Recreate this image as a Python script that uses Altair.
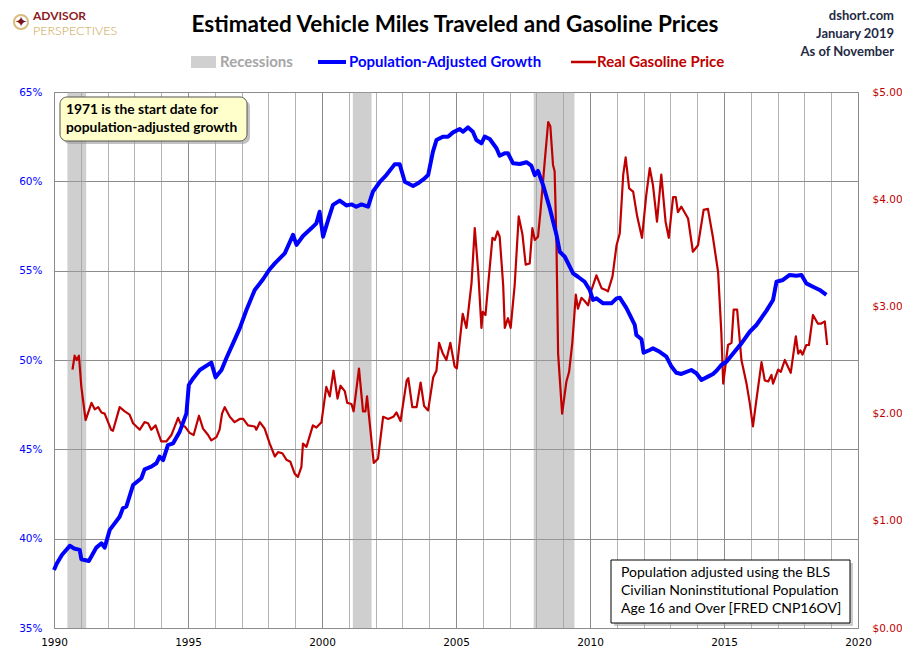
import altair as alt
import pandas as pd

# ---------------- data ----------------
blue_years = [1990.0, 1990.1, 1990.3, 1990.59, 1990.75, 1990.96, 1991.02, 1991.3, 1991.58, 1991.77,
              1991.89, 1992.08, 1992.45, 1992.57, 1992.7, 1992.95, 1993.26, 1993.38, 1993.63, 1993.82,
              1993.94, 1994.07, 1994.25, 1994.44, 1994.69, 1994.94, 1995.03, 1995.19, 1995.44, 1995.87,
              1996.03, 1996.25, 1996.43, 1996.68, 1996.93, 1997.18, 1997.49, 1997.8, 1998.05, 1998.24,
              1998.61, 1998.92, 1999.05, 1999.29, 1999.6, 1999.79, 1999.91, 2000.04, 2000.23, 2000.41,
              2000.66, 2000.91, 2001.1, 2001.28, 2001.47, 2001.72, 2001.9, 2002.15, 2002.4, 2002.71,
              2002.9, 2003.09, 2003.4, 2003.58, 2003.83, 2003.96, 2004.14, 2004.27, 2004.51, 2004.7,
              2004.89, 2005.14, 2005.26, 2005.45, 2005.63, 2005.76, 2005.95, 2006.07, 2006.26, 2006.51,
              2006.63, 2006.82, 2006.94, 2007.13, 2007.38, 2007.63, 2007.81, 2007.94, 2008.06, 2008.25,
              2008.5, 2008.75, 2008.87, 2009.06, 2009.37, 2009.55, 2009.8, 2009.99, 2010.11, 2010.24,
              2010.49, 2010.8, 2010.99, 2011.11, 2011.36, 2011.67, 2011.73, 2011.92, 2012.0, 2012.23,
              2012.35, 2012.6, 2012.85, 2013.04, 2013.22, 2013.41, 2013.78, 2013.97, 2014.16, 2014.4,
              2014.59, 2014.72, 2014.9, 2015.09, 2015.34, 2015.65, 2015.96, 2016.21, 2016.58, 2016.83,
              2016.96, 2017.2, 2017.45, 2017.7, 2017.89, 2018.07, 2018.32, 2018.57, 2018.82]
blue_pct = [38.25, 38.6, 39.1, 39.6, 39.45, 39.37, 38.85, 38.75, 39.5, 39.74,
            39.5, 40.49, 41.23, 41.7, 41.8, 43.0, 43.38, 43.88, 44.03, 44.22,
            44.59, 44.4, 45.24, 45.33, 45.99, 47.0, 48.6, 48.97, 49.44, 49.85,
            49.03, 49.44, 50.1, 50.93, 51.77, 52.8, 53.92, 54.52, 55.08, 55.41,
            55.97, 57.0, 56.44, 56.94, 57.37, 57.65, 58.3, 56.9, 57.84, 58.68,
            58.92, 58.65, 58.71, 58.58, 58.71, 58.58, 59.42, 59.95, 60.35, 60.95,
            60.95, 59.98, 59.74, 59.89, 60.17, 60.35, 61.66, 62.31, 62.5, 62.5,
            62.74, 62.93, 62.78, 63.02, 62.78, 62.31, 62.13, 62.5, 62.37, 61.85,
            61.43, 61.57, 61.57, 61.01, 60.97, 61.07, 60.88, 60.35, 60.58, 59.79,
            58.49, 57.0, 56.06, 55.78, 54.85, 54.66, 54.38, 53.92, 53.36, 53.45,
            53.17, 53.17, 53.45, 53.49, 52.9, 51.96, 51.4, 51.16, 50.41, 50.56,
            50.65, 50.46, 50.19, 49.63, 49.29, 49.22, 49.44, 49.26, 48.88, 49.07,
            49.22, 49.4, 49.72, 49.9, 50.37, 50.93, 51.58, 51.96, 52.75, 53.36,
            54.38, 54.48, 54.76, 54.72, 54.76, 54.29, 54.1, 53.92, 53.64]

red_years = [1990.69, 1990.77, 1990.85, 1990.93, 1991.02, 1991.18, 1991.4, 1991.52, 1991.65, 1991.77,
             1991.89, 1992.13, 1992.2, 1992.45, 1992.64, 1992.82, 1992.95, 1993.2, 1993.38, 1993.51,
             1993.63, 1993.79, 1994.0, 1994.19, 1994.38, 1994.63, 1994.75, 1994.88, 1995.06, 1995.21,
             1995.41, 1995.56, 1995.75, 1995.87, 1996.06, 1996.18, 1996.27, 1996.37, 1996.56, 1996.74,
             1996.93, 1997.06, 1997.24, 1997.49, 1997.55, 1997.68, 1997.86, 1998.05, 1998.24, 1998.36,
             1998.52, 1998.67, 1998.82, 1998.98, 1999.1, 1999.23, 1999.29, 1999.42, 1999.66, 1999.79,
             1999.98, 2000.16, 2000.29, 2000.43, 2000.58, 2000.69, 2000.85, 2000.94, 2001.1, 2001.18,
             2001.38, 2001.53, 2001.62, 2001.68, 2001.93, 2002.09, 2002.28, 2002.47, 2002.66, 2002.78,
             2002.93, 2003.16, 2003.22, 2003.37, 2003.53, 2003.68, 2003.81, 2003.96, 2004.15, 2004.27,
             2004.37, 2004.51, 2004.64, 2004.79, 2004.95, 2005.03, 2005.25, 2005.39, 2005.58, 2005.7,
             2005.83, 2005.95, 2006.0, 2006.1, 2006.2, 2006.36, 2006.45, 2006.55, 2006.63, 2006.76,
             2006.82, 2006.94, 2007.04, 2007.19, 2007.34, 2007.48, 2007.6, 2007.75, 2007.85, 2007.94,
             2008.06, 2008.15, 2008.31, 2008.44, 2008.52, 2008.62, 2008.68, 2008.75, 2008.81, 2008.96,
             2009.12, 2009.22, 2009.34, 2009.43, 2009.47, 2009.55, 2009.68, 2009.8, 2009.93, 2010.05,
             2010.24, 2010.43, 2010.61, 2010.67, 2010.84, 2010.99, 2011.11, 2011.24, 2011.33, 2011.46,
             2011.61, 2011.76, 2011.94, 2012.1, 2012.23, 2012.35, 2012.5, 2012.66, 2012.82, 2012.94,
             2013.1, 2013.2, 2013.28, 2013.41, 2013.66, 2013.84, 2014.03, 2014.24, 2014.4, 2014.59,
             2014.78, 2014.9, 2014.97, 2015.15, 2015.28, 2015.36, 2015.49, 2015.65, 2015.84, 2015.96,
             2016.08, 2016.21, 2016.4, 2016.52, 2016.65, 2016.77, 2016.83, 2017.02, 2017.12, 2017.27,
             2017.49, 2017.68, 2017.77, 2017.85, 2017.93, 2018.07, 2018.17, 2018.32, 2018.5, 2018.63,
             2018.76, 2018.85]
red_price = [2.41, 2.54, 2.50, 2.54, 2.25, 1.94, 2.10, 2.04, 2.06, 2.01,
             2.00, 1.85, 1.84, 2.06, 2.02, 1.99, 1.91, 1.85, 1.92, 1.91,
             1.85, 1.89, 1.74, 1.74, 1.80, 1.96, 1.89, 1.88, 1.82, 1.80,
             1.98, 1.86, 1.80, 1.75, 1.78, 1.85, 2.00, 2.06, 1.97, 1.92,
             1.95, 1.95, 1.89, 1.88, 1.85, 1.92, 1.86, 1.72, 1.60, 1.64,
             1.63, 1.57, 1.55, 1.44, 1.41, 1.50, 1.72, 1.69, 1.89, 1.87,
             1.92, 2.25, 2.16, 2.40, 2.14, 2.26, 2.21, 2.10, 2.09, 2.02,
             2.42, 2.02, 2.02, 2.16, 1.54, 1.58, 1.97, 1.95, 1.97, 2.01,
             1.93, 2.31, 2.33, 2.06, 2.06, 2.29, 2.07, 2.03, 2.34, 2.40,
             2.66, 2.56, 2.50, 2.66, 2.44, 2.42, 2.93, 2.80, 3.22, 3.73,
             3.32, 2.80, 2.95, 2.92, 3.20, 3.64, 3.62, 3.70, 3.65, 3.20,
             2.80, 2.89, 2.80, 3.20, 3.84, 3.67, 3.39, 3.40, 3.73, 3.62,
             3.65, 3.88, 4.35, 4.72, 4.68, 4.32, 4.26, 3.57, 2.56, 2.00,
             2.30, 2.39, 2.66, 2.97, 3.11, 2.98, 3.08, 3.05, 3.01, 3.15,
             3.29, 3.17, 3.15, 3.14, 3.28, 3.57, 3.68, 4.23, 4.39, 4.10,
             4.07, 3.84, 3.64, 4.04, 4.29, 4.13, 3.79, 4.23, 3.79, 3.64,
             4.02, 4.02, 3.88, 3.93, 3.82, 3.51, 3.57, 3.90, 3.91, 3.64,
             3.32, 2.76, 2.28, 2.64, 2.66, 2.97, 2.97, 2.50, 2.28, 2.10,
             1.88, 2.13, 2.48, 2.31, 2.30, 2.36, 2.28, 2.41, 2.39, 2.50,
             2.38, 2.72, 2.56, 2.59, 2.55, 2.64, 2.64, 2.92, 2.84, 2.84,
             2.86, 2.64]

rec_start = [1990.5, 2001.15, 2007.9]
rec_end = [1991.2, 2001.85, 2009.42]

x_ticks = list(range(1990, 2021))
pct_ticks = [35, 40, 45, 50, 55, 60, 65]
price_ticks = [0, 1, 2, 3, 4, 5]

title_text = "Estimated Vehicle Miles Traveled and Gasoline Prices"
note1 = ["1971  is the start date for", "population-adjusted growth"]
note2 = ["Population adjusted using the BLS", "Civilian Noninstitutional Population",
         "Age 16 and Over  [FRED CNP16OV]"]
top_right = ["dshort.com", "January 2019", "As of November"]

# ---------------- chart ----------------
W, H = 804, 536
OX, OY = 54, 92  # page position of plot origin

blue = pd.DataFrame({"year": blue_years, "pct": blue_pct})
red = pd.DataFrame({"year": red_years, "price": red_price})
rec = pd.DataFrame({"start": rec_start, "end": rec_end})

xscale = alt.Scale(domain=[1990, 2020], nice=False, zero=False)
AXF = "DejaVu Sans"


def x_axis():
    return alt.Axis(values=x_ticks, labelExpr="datum.value % 5 === 0 ? datum.label : ''",
                    format="d", grid=True,
                    gridColor={"condition": {"test": "datum.value % 5 === 0", "value": "#8c8c8c"},
                               "value": "#b4b4b4"},
                    ticks=False, domain=False, title=None, labelFont=AXF, labelFontSize=10.5,
                    labelColor="#000000", labelPadding=9, labelOverlap=False,
                    labelFlush=False, labelBound=False)


rec_layer = alt.Chart(rec).mark_rect(color="#a0a0a0", opacity=0.5).encode(
    x=alt.X("start:Q", scale=xscale, axis=x_axis()),
    x2="end:Q",
)

blue_layer = alt.Chart(blue).mark_line(color="#0000FF", strokeWidth=4, strokeJoin="round").encode(
    x=alt.X("year:Q", scale=xscale, axis=x_axis()),
    y=alt.Y("pct:Q", scale=alt.Scale(domain=[35, 65], nice=False, zero=False),
            axis=alt.Axis(orient="left", values=pct_ticks, labelExpr="datum.value + '%'",
                          grid=True, gridColor="#8c8c8c", ticks=False, domain=False, title=None,
                          labelFont=AXF, labelFontSize=10.5, labelColor="#0000FF",
                          labelPadding=12, labelFlush=False)),
)

red_layer = alt.Chart(red).mark_line(color="#C00000", strokeWidth=2.2, strokeJoin="round").encode(
    x=alt.X("year:Q", scale=xscale, axis=x_axis()),
    y=alt.Y("price:Q", scale=alt.Scale(domain=[0, 5], nice=False, zero=False),
            axis=alt.Axis(orient="right", values=price_ticks, format="$.2f", grid=False,
                          ticks=False, domain=False, title=None, labelFont=AXF,
                          labelFontSize=10.5, labelColor="#C00000", labelPadding=14,
                          labelFlush=False)),
)


def txt(t, px, py, **kw):
    return alt.Chart(pd.DataFrame({"t": [t]})).mark_text(**kw).encode(
        x=alt.value(px - OX), y=alt.value(py - OY), text="t:N")


def box(px1, py1, px2, py2, **kw):
    return alt.Chart(pd.DataFrame({"a": [0]})).mark_rect(**kw).encode(
        x=alt.value(px1 - OX), x2=alt.value(px2 - OX),
        y=alt.value(py1 - OY), y2=alt.value(py2 - OY))


def hline(px1, px2, py, **kw):
    return alt.Chart(pd.DataFrame({"a": [0]})).mark_rule(**kw).encode(
        x=alt.value(px1 - OX), x2=alt.value(px2 - OX), y=alt.value(py - OY))


TF = "Lato"
layers = [
    rec_layer, red_layer, blue_layer,
    # title
    txt(title_text, 455, 25, font=TF, fontSize=22.5, fontWeight="bold", color="#000000",
        align="center", baseline="middle"),
    # logo
    alt.Chart(pd.DataFrame({"a": [0]})).mark_point(shape="circle", filled=False, color="#C9A14A",
                                                  size=200, strokeWidth=2).encode(
        x=alt.value(21 - OX), y=alt.value(22 - OY)),
    txt("✦", 21, 22, font="DejaVu Sans", fontSize=15, color="#7A1420", align="center",
        baseline="middle"),
    txt("ADVISOR", 33, 19.5, font=TF, fontSize=12, fontWeight="bold", color="#8B1C24",
        align="left", baseline="alphabetic"),
    txt("PERSPECTIVES", 33, 34.5, font=TF, fontSize=12.5, fontWeight=300, color="#C9A14A",
        align="left", baseline="alphabetic"),
    # top right
    txt(top_right[0], 894, 16, font=TF, fontSize=13, fontWeight="bold", color="#1F2A44",
        align="right", baseline="middle"),
    txt(top_right[1], 894, 34, font=TF, fontSize=13, fontWeight="bold", color="#1F2A44",
        align="right", baseline="middle"),
    txt(top_right[2], 894, 52, font=TF, fontSize=13, fontWeight="bold", color="#1F2A44",
        align="right", baseline="middle"),
    # legend
    box(191, 56, 216, 68, color="#d0d0d0"),
    txt("Recessions", 220, 62, font=TF, fontSize=15, fontWeight="bold", color="#a6a6a6",
        align="left", baseline="middle"),
    hline(318, 346, 62, color="#0000FF", strokeWidth=4),
    txt("Population-Adjusted Growth", 349, 62, font=TF, fontSize=15, fontWeight="bold",
        color="#0000FF", align="left", baseline="middle"),
    hline(571, 596, 62, color="#C00000", strokeWidth=2.5),
    txt("Real Gasoline Price", 597, 62, font=TF, fontSize=15, fontWeight="bold",
        color="#C00000", align="left", baseline="middle"),
    # top-left note
    box(63, 100, 250, 144, color="#9a9a9a", opacity=0.6, cornerRadius=7),
    box(60, 97, 247, 141, fill="#FFFFCC", stroke="#555555", strokeWidth=1, cornerRadius=7),
    txt(note1[0], 66, 110, font=TF, fontSize=13.8, fontWeight="bold", color="#000000",
        align="left", baseline="middle"),
    txt(note1[1], 66, 128, font=TF, fontSize=13.8, fontWeight="bold", color="#000000",
        align="left", baseline="middle"),
    # bottom-right note
    box(614, 563, 853, 626, color="#9a9a9a", opacity=0.5),
    box(611, 560, 850, 623, fill="#FFFFFF", stroke="#000000", strokeWidth=1),
    txt(note2[0], 621, 573, font=TF, fontSize=14, color="#000000", align="left",
        baseline="middle"),
    txt(note2[1], 621, 591, font=TF, fontSize=14, color="#000000", align="left",
        baseline="middle"),
    txt(note2[2], 621, 609, font=TF, fontSize=14, color="#000000", align="left",
        baseline="middle"),
]

chart = alt.layer(*layers).resolve_scale(y="independent").properties(
    width=W, height=H,
    autosize=alt.AutoSizeParams(type="none"),
    padding={"left": 46, "top": 84, "right": 44, "bottom": 25},
    background="#ffffff",
).configure_view(stroke="#8c8c8c", strokeWidth=1)

chart.save("out.html", embed_options={"renderer": "svg", "actions": False})
